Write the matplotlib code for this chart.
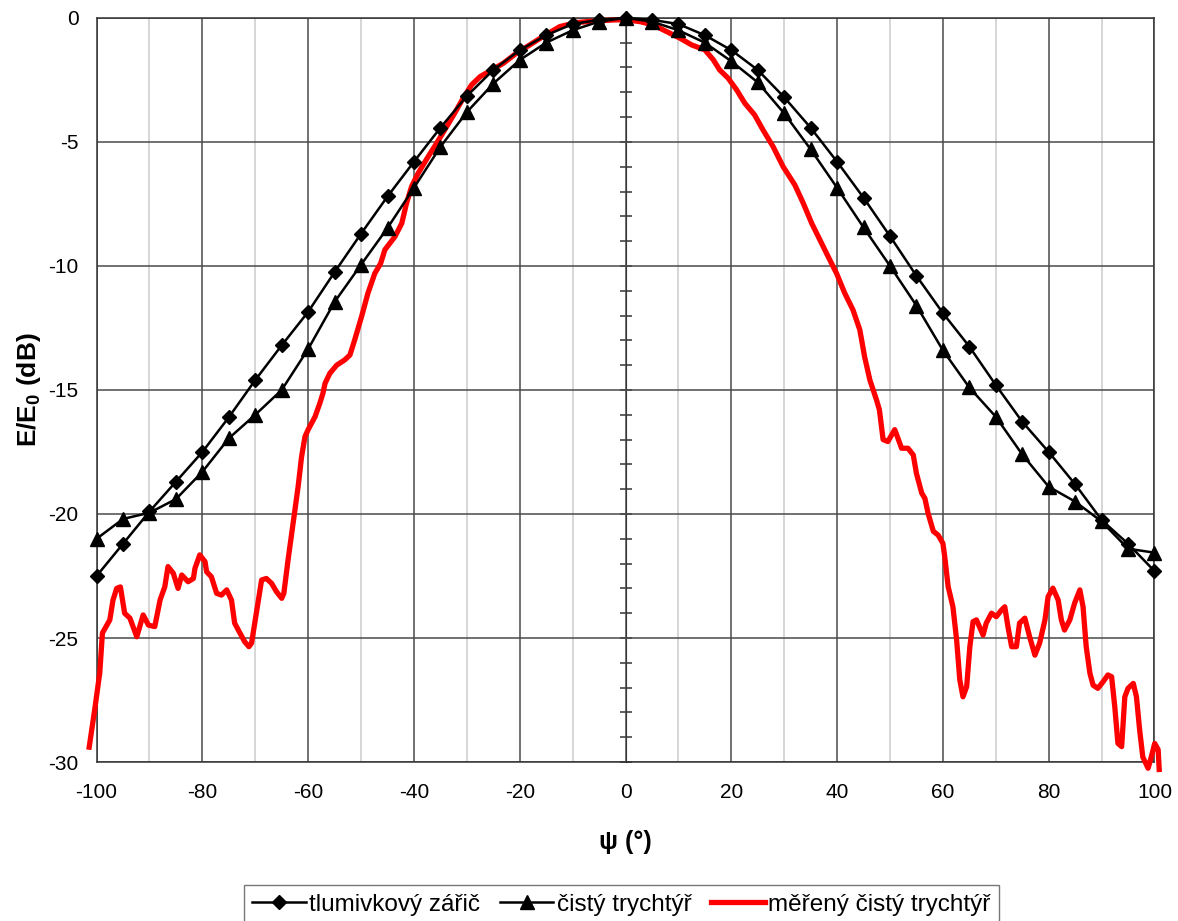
import numpy as np
import matplotlib
matplotlib.use('Agg')
import matplotlib.pyplot as plt
from matplotlib.ticker import MultipleLocator

plt.rcParams['font.family'] = ['Liberation Sans', 'DejaVu Sans']
plt.rcParams['mathtext.fontset'] = 'custom'
plt.rcParams['mathtext.rm'] = 'Liberation Sans'
plt.rcParams['mathtext.bf'] = 'Liberation Sans:bold'
plt.rcParams['axes.unicode_minus'] = False

# angles of the computed curves (deg)
psi_calc = np.arange(-100, 101, 5)

# tlumivkovy zaric (diamonds)
tlumivkovy = [-22.5, -21.2, -19.9, -18.7, -17.5, -16.1, -14.6, -13.2, -11.85, -10.25,
              -8.7, -7.2, -5.8, -4.43, -3.15, -2.1, -1.3, -0.7, -0.25, -0.08,
              0.0,
              -0.08, -0.25, -0.7, -1.3, -2.1, -3.2, -4.43, -5.8, -7.25, -8.8,
              -10.4, -11.9, -13.25, -14.8, -16.28, -17.5, -18.8, -20.24, -21.2, -22.3]

# cisty trychtyr (triangles)
cisty = [-21.0, -20.2, -19.95, -19.4, -18.3, -16.95, -16.0, -15.0, -13.35, -11.45,
         -9.95, -8.47, -6.85, -5.2, -3.8, -2.65, -1.7, -1.0, -0.5, -0.15,
         0.0,
         -0.15, -0.5, -1.0, -1.75, -2.6, -3.85, -5.3, -6.85, -8.45, -10.0,
         -11.6, -13.4, -14.9, -16.08, -17.6, -18.9, -19.5, -20.3, -21.4, -21.56]

# mereny cisty trychtyr (measured, red)
psi_meas = [-101.4, -100.3, -99.4, -98.9, -97.5, -96.9, -96.2, -95.5, -94.7, -93.7,
            -92.4, -91.2, -90.2, -89.0, -88.0, -87.1, -86.5, -85.5, -84.6, -83.9,
            -82.7, -81.7, -81.4, -80.5, -79.5, -79.2, -78.3, -77.3, -76.4, -75.4,
            -74.5, -73.9, -72.9, -72.0, -71.2, -70.7, -69.8, -68.8, -67.9, -66.9,
            -66.0, -65.0, -64.6, -63.8, -62.8, -61.9, -61.25, -60.6, -60.0, -58.7,
            -57.8, -57.2, -56.8, -55.9, -54.6, -53.1, -52.1, -51.2, -49.9, -48.7,
            -47.4, -46.3, -45.5, -43.6, -42.3, -41.4, -40.45, -39.2, -37.3, -35.7,
            -33.8, -32.3, -30.7, -29.1, -27.5, -25.3, -23.1, -20.6, -18.1, -15.6,
            -12.4, -9.3, -5.5, -1.7, 0.2, 2.7, 5.2, 7.75, 10.3, 12.5,
            15.0, 16.6, 17.8, 19.4, 21.0, 22.55, 24.4, 26.0, 27.9, 29.8,
            32.0, 33.6, 35.2, 37.05, 38.3, 39.9, 41.45, 43.0, 44.3, 45.2,
            46.2, 47.45, 48.0, 48.7, 49.6, 50.9, 52.2, 53.4, 54.4, 55.0,
            56.0, 56.6, 57.2, 58.2, 59.1, 60.0, 60.35, 61.0, 61.9, 62.6,
            63.2, 63.8, 64.5, 65.1, 65.7, 66.35, 67.6, 68.2, 69.2, 70.1,
            71.1, 71.7, 72.3, 73.0, 73.9, 74.5, 75.5, 76.4, 77.4, 78.3,
            79.3, 79.9, 80.8, 81.8, 82.4, 83.0, 84.0, 84.9, 85.9, 86.5,
            87.1, 87.8, 88.4, 89.3, 90.3, 91.2, 91.9, 92.5, 93.1, 93.8,
            94.4, 95.0, 96.0, 96.6, 97.2, 97.8, 98.8, 99.4, 100.05, 100.7,
            100.9]
mereny = [-29.4, -27.8, -26.4, -24.8, -24.27, -23.47, -23.0, -22.94, -24.0, -24.2,
          -24.95, -24.07, -24.48, -24.54, -23.47, -22.93, -22.12, -22.39, -23.0, -22.46,
          -22.73, -22.6, -22.19, -21.65, -21.92, -22.33, -22.53, -23.2, -23.27, -23.06,
          -23.47, -24.4, -24.8, -25.15, -25.35, -25.2, -24.0, -22.66, -22.6, -22.8,
          -23.13, -23.4, -23.2, -21.85, -20.3, -18.9, -17.7, -16.88, -16.6, -16.08,
          -15.54, -15.13, -14.73, -14.33, -14.0, -13.79, -13.59, -12.98, -12.04, -11.1,
          -10.3, -9.9, -9.35, -8.82, -8.28, -7.47, -6.8, -6.26, -5.59, -5.05,
          -4.38, -3.84, -3.24, -2.7, -2.37, -2.1, -1.83, -1.42, -1.09, -0.75,
          -0.35, -0.19, -0.12, -0.08, -0.08, -0.15, -0.28, -0.55, -0.82, -1.09,
          -1.29, -1.69, -2.1, -2.43, -2.9, -3.44, -3.91, -4.52, -5.19, -6.0,
          -6.73, -7.47, -8.28, -9.08, -9.62, -10.3, -11.1, -11.77, -12.58, -13.66,
          -14.6, -15.4, -15.8, -17.0, -17.08, -16.6, -17.35, -17.35, -17.62, -18.36,
          -19.16, -19.37, -19.97, -20.7, -20.85, -21.18, -21.72, -22.93, -23.74, -25.08,
          -26.69, -27.37, -26.96, -25.35, -24.34, -24.27, -24.88, -24.4, -24.0, -24.14,
          -23.87, -23.74, -24.54, -25.35, -25.35, -24.4, -24.2, -24.95, -25.69, -25.2,
          -24.27, -23.33, -22.99, -23.47, -24.27, -24.68, -24.27, -23.6, -23.06, -23.74,
          -25.35, -26.42, -26.9, -27.03, -26.76, -26.49, -26.56, -27.77, -29.25, -29.38,
          -27.37, -27.03, -26.83, -27.37, -28.7, -29.8, -30.25, -29.8, -29.25, -29.5,
          -30.3]

labels = ['tlumivkový zářič', 'čistý trychtýř', 'měřený čistý trychtýř']

fig = plt.figure(figsize=(11.78, 9.21), dpi=100)
ax = fig.add_axes([0.082, 0.1726, 0.898, 0.808])

ax.set_xlim(-100, 100)
ax.set_ylim(-30, 0)
ax.xaxis.set_major_locator(MultipleLocator(20))
ax.xaxis.set_minor_locator(MultipleLocator(10))
ax.yaxis.set_major_locator(MultipleLocator(5))

ax.grid(which='major', color='#4a4a4a', linewidth=1.1)
ax.grid(which='minor', axis='x', color='#cccccc', linewidth=1.1)
ax.set_axisbelow(True)
ax.tick_params(which='both', length=0)
ax.tick_params(axis='x', pad=15, labelsize=15)
ax.tick_params(axis='y', pad=13, labelsize=15)
for s in ax.spines.values():
    s.set_color('#333333')
    s.set_linewidth(1.1)

# vertical axis through psi = 0 with 1 dB ticks
sec = ax.secondary_yaxis(0.5)
sec.yaxis.set_major_locator(MultipleLocator(1))
sec.tick_params(direction='inout', length=9, width=1.1, labelleft=False, labelright=False,
                left=True, right=False, color='#333333')
sec.spines['left'].set_color('#222222')
sec.spines['left'].set_linewidth(1.6)

l3, = ax.plot(psi_meas, mereny, color='red', linewidth=3.8, zorder=3, clip_on=False)
l1, = ax.plot(psi_calc, tlumivkovy, color='black', linewidth=1.8, marker='D',
              markersize=7.5, zorder=4, clip_on=False)
l2, = ax.plot(psi_calc, cisty, color='black', linewidth=1.8, marker='^',
              markersize=10, zorder=4, clip_on=False)

ax.set_xlabel('ψ (°)', fontsize=18, fontweight='bold', labelpad=20)
ax.set_ylabel(r'E/E$_{\mathbf{0}}$ (dB)', fontsize=19, fontweight='bold', labelpad=4)

leg = fig.legend([l1, l2, l3], labels, loc='upper center', bbox_to_anchor=(0.5275, 0.039),
                 ncol=3, fontsize=17.5, frameon=True, fancybox=False, handlelength=2.2,
                 handletextpad=0.15, columnspacing=0.8, borderpad=0.35, borderaxespad=0)
leg.get_frame().set_edgecolor('#555555')
leg.get_frame().set_linewidth(1.0)

fig.savefig('out.png', dpi=100)
